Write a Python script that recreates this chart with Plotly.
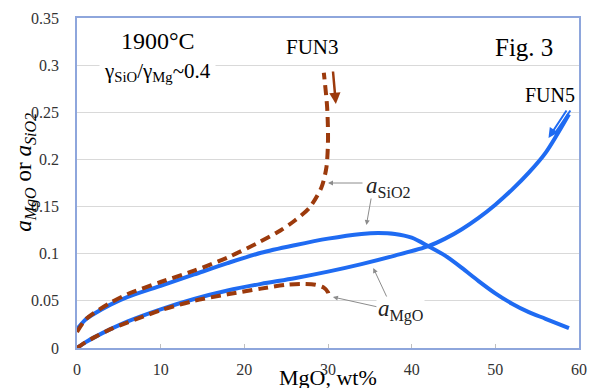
import plotly.graph_objects as go

# FUN5 (blue, solid)
fun5_x_sio2 = [0, 1, 2, 4, 6, 10, 14, 18, 22, 26, 30, 34, 36, 38, 40, 42, 44, 46, 48, 50, 52, 54, 56, 58.8]
fun5_a_sio2 = [0.020, 0.030, 0.036, 0.046, 0.054, 0.066, 0.078, 0.090, 0.101, 0.109, 0.116, 0.121, 0.122,
               0.121, 0.117, 0.108, 0.098, 0.085, 0.071, 0.058, 0.047, 0.038, 0.031, 0.021]
fun5_x_mgo = [0, 1, 2, 4, 6, 10, 14, 18, 22, 26, 30, 34, 38, 42, 44, 46, 48, 50, 52, 54, 56, 58.8]
fun5_a_mgo = [0.000, 0.006, 0.011, 0.020, 0.028, 0.041, 0.052, 0.061, 0.068, 0.074, 0.081, 0.089, 0.098,
              0.108, 0.116, 0.126, 0.138, 0.152, 0.168, 0.186, 0.207, 0.248]

# FUN3 (brown, dashed)
fun3_x_sio2 = [0, 1, 2, 4, 6, 10, 14, 18, 21.5, 24, 26, 27.8, 29.2, 29.8, 30.0, 29.9, 29.5]
fun3_a_sio2 = [0.017, 0.030, 0.037, 0.048, 0.057, 0.070, 0.082, 0.096, 0.111, 0.123, 0.135, 0.149, 0.170,
               0.191, 0.220, 0.255, 0.292]
fun3_x_mgo = [0, 1, 2, 4, 6, 10, 14, 18, 22, 25, 27, 28.5, 29.5, 30.0, 30.1]
fun3_a_mgo = [0.000, 0.006, 0.011, 0.020, 0.027, 0.040, 0.050, 0.057, 0.063, 0.067, 0.068, 0.067, 0.064,
              0.059, 0.053]

x_ticks = [0, 10, 20, 30, 40, 50, 60]
y_ticks = [0, 0.05, 0.1, 0.15, 0.2, 0.25, 0.3, 0.35]
y_tick_text = ["0", "0.05", "0.1", "0.15", "0.2", "0.25", "0.3", "0.35"]

BLUE = "#1F6BF2"
BROWN = "#9C3A0C"
SERIF = "Liberation Serif"

fig = go.Figure()
for xs, ys in [(fun5_x_sio2, fun5_a_sio2), (fun5_x_mgo, fun5_a_mgo)]:
    fig.add_trace(go.Scatter(x=xs, y=ys, mode="lines",
                             line=dict(color=BLUE, width=4, shape="spline", smoothing=0.8),
                             showlegend=False, hoverinfo="skip"))
for xs, ys in [(fun3_x_sio2, fun3_a_sio2), (fun3_x_mgo, fun3_a_mgo)]:
    fig.add_trace(go.Scatter(x=xs, y=ys, mode="lines",
                             line=dict(color=BROWN, width=4, dash="10px,6px", shape="spline", smoothing=0.8),
                             showlegend=False, hoverinfo="skip"))

AX_COLOR = "#8EA6DC"
fig.update_xaxes(range=[0, 60], tickvals=x_ticks, showgrid=False, zeroline=False,
                 showline=True, linecolor=AX_COLOR, linewidth=1.5, mirror=True,
                 ticks="inside", ticklen=4, tickcolor="#BFBFBF",
                 tickfont=dict(family=SERIF, size=16, color="#333333"), ticklabelstandoff=6)
fig.update_yaxes(range=[0, 0.35], tickvals=y_ticks, ticktext=y_tick_text,
                 showgrid=True, gridcolor="#D9D9D9", gridwidth=1, zeroline=False,
                 showline=True, linecolor=AX_COLOR, linewidth=1.5, mirror=True,
                 ticks="", tickfont=dict(family=SERIF, size=16, color="#333333"), ticklabelstandoff=13)

def px2x(px):
    return (px - 77) / 8.5

def py2y(py):
    return (348 - py) / (330 / 0.35)

annotations = []
# Text boxes
annotations.append(dict(x=px2x(159), y=py2y(41), text="1900°C", showarrow=False,
                        font=dict(family=SERIF, size=24, color="black"), bgcolor="white"))
annotations.append(dict(x=px2x(159), y=py2y(72),
                        text="γ<sub>SiO</sub>/γ<sub>Mg</sub>~0.4", showarrow=False, borderpad=4,
                        font=dict(family=SERIF, size=21, color="black"), bgcolor="white"))
annotations.append(dict(x=px2x(316), y=py2y(47), text="FUN3", showarrow=False,
                        font=dict(family=SERIF, size=21, color="black")))
annotations.append(dict(x=px2x(531), y=py2y(47), text="Fig. 3", showarrow=False,
                        font=dict(family=SERIF, size=25, color="black")))
annotations.append(dict(x=px2x(558), y=py2y(95), text="FUN5", showarrow=False,
                        font=dict(family=SERIF, size=20, color="black")))
annotations.append(dict(x=px2x(393), y=py2y(187),
                        text="<i>a</i><sub>SiO2</sub>", showarrow=False,
                        font=dict(family=SERIF, size=23, color="#222222"), bgcolor="white"))
annotations.append(dict(x=px2x(406), y=py2y(310),
                        text="<i>a</i><sub>MgO</sub>", showarrow=False,
                        font=dict(family=SERIF, size=23, color="#222222"), bgcolor="white"))

# Pointer arrows (gray)
for tip, off in [((332, 183), (36, 0)), ((371, 225), (5, -28)),
                 ((337, 297), (45, 10)), ((378, 268), (14, 30))]:
    annotations.append(dict(x=px2x(tip[0]), y=py2y(tip[1]), ax=off[0], ay=off[1], text="",
                            showarrow=True, arrowhead=2, arrowsize=1, arrowwidth=1,
                            arrowcolor="#8C8C8C", standoff=0))
# FUN3 arrow
annotations.append(dict(x=px2x(340), y=py2y(104), ax=-3, ay=-34, text="", showarrow=True,
                        arrowhead=2, arrowsize=0.9, arrowwidth=2.5, arrowcolor=BROWN, standoff=0))
# FUN5 double arrow
annotations.append(dict(x=px2x(556), y=py2y(138), ax=19, ay=-29, text="", showarrow=True,
                        arrowhead=2, arrowsize=1, arrowwidth=2, arrowcolor=BLUE, standoff=0))
annotations.append(dict(x=px2x(562), y=py2y(134), ax=17, ay=-25, text="", showarrow=True,
                        arrowhead=0, arrowwidth=2, arrowcolor=BLUE, standoff=0))

# Axis titles
annotations.append(dict(xref="paper", yref="paper", x=(24 - 77) / 510, y=(348 - 172) / 330,
                        xanchor="center", yanchor="middle",
                        text="<i>a</i><sub><i>MgO</i></sub> or <i>a</i><sub><i>SiO2</i></sub>",
                        textangle=-90, showarrow=False,
                        font=dict(family=SERIF, size=23, color="black")))
annotations.append(dict(xref="paper", yref="paper", x=(332 - 77) / 510, y=(348 - 377) / 330,
                        xanchor="center", yanchor="middle",
                        text="MgO, wt%", showarrow=False,
                        font=dict(family=SERIF, size=22, color="black")))

fig.update_layout(width=597, height=388, margin=dict(l=77, r=10, t=18, b=40),
                  paper_bgcolor="white", plot_bgcolor="white", annotations=annotations,
                  font=dict(family=SERIF),
                  shapes=[dict(type="rect", xref="x", yref="y", x0=px2x(338), x1=px2x(440),
                               y0=py2y(303), y1=py2y(297), fillcolor="white", line=dict(width=0),
                               layer="below")])

fig.write_html("out.html", config={"displayModeBar": False},
               post_script="document.body.style.margin='0';document.body.style.overflow='hidden';")
